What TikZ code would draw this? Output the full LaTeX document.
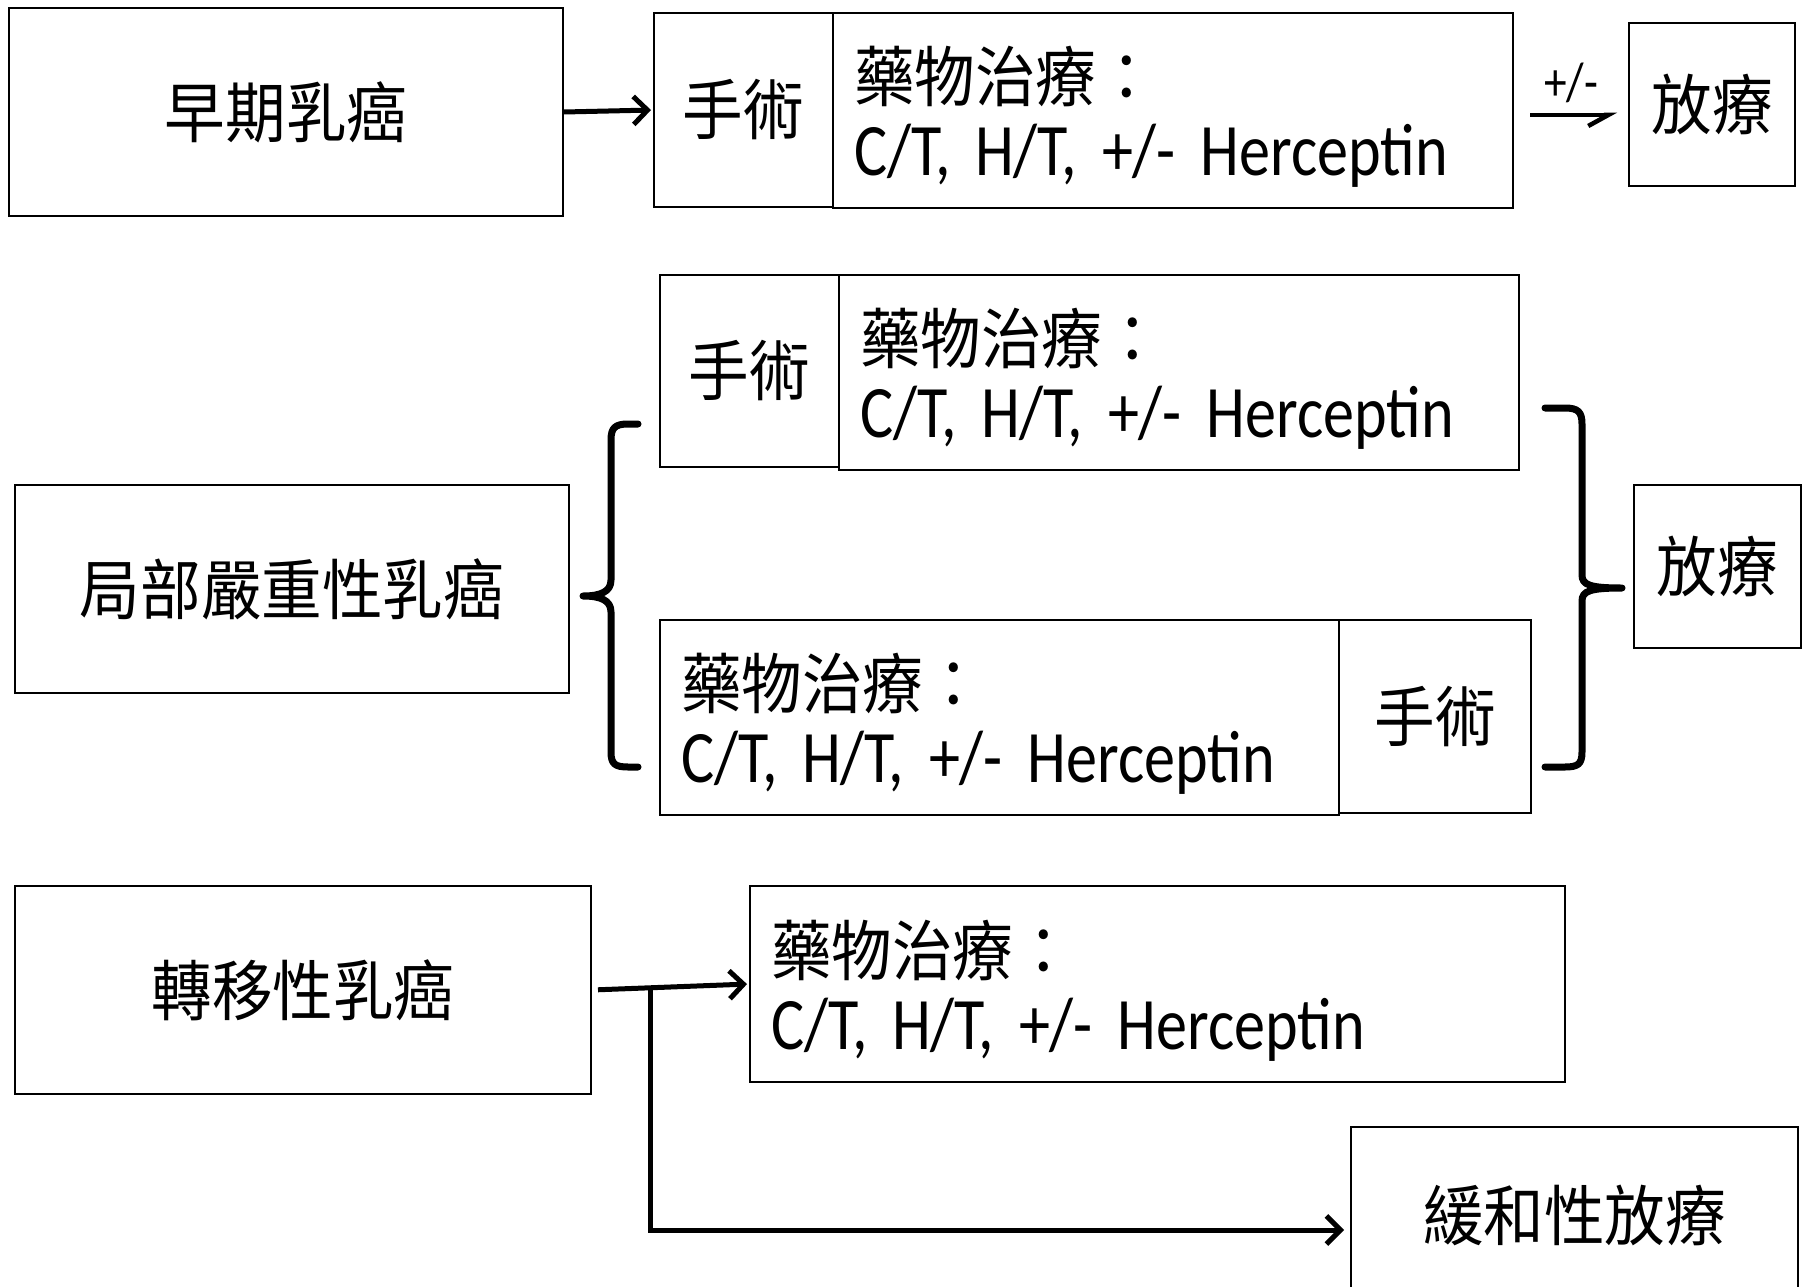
\documentclass[tikz,border=0pt]{standalone}
\usepackage{fontspec}
\setmainfont{Carlito}[FakeStretch=0.84]
\newfontfamily\cjk{Noto Sans CJK TC}[Scale=0.89,FakeStretch=0.92]
\usetikzlibrary{arrows.meta,calc}

\newcommand{\drugfont}{\fontsize{74}{74}\selectfont\fontdimen2\font=11pt\relax}
\newcommand{\drugtext}{\leavevmode\vrule height 68pt depth 0pt width 0pt\relax{\cjk 藥物治療：}\\C/T, H/T, +/- Herceptin}

\begin{document}
\begin{tikzpicture}[x=1pt,y=-1pt,
	box/.style 2 args={draw,line width=2pt,inner sep=0pt,minimum width=#1,minimum height=#2,font=\fontsize{74}{80}\selectfont\cjk},
	drugbox/.style={draw,line width=2pt,inner xsep=21pt,inner ysep=0pt,minimum height=195pt,text width=#1,align=left,font=\drugfont},
	brace/.style={line width=7pt,line cap=round,line join=round},
	>={Straight Barb[length=14pt,width=28pt]}]
		\useasboundingbox (0,0) rectangle (1810,1287);
		% early
		\node[box={554pt}{208pt}] (early) at (286,112) {早期乳癌};
		\node[box={179pt}{194pt}] (surg1) at (743.5,110) {手術};
		\node[drugbox=638pt] (drug1) at (1173,110.5) {\drugtext};
		\node[box={166pt}{163pt}] (rt1) at (1712,104.5) {放療};
		% locally advanced
		\node[box={554pt}{208pt}] (local) at (292,589) {局部嚴重性乳癌};
		\node[box={179pt}{192pt}] (surg2) at (749.5,371) {手術};
		\node[drugbox=638pt] (drug2) at (1179,372.5) {\drugtext};
		\node[drugbox=637pt] (drug3) at (999.5,717) {\drugtext};
		\node[box={192pt}{193pt}] (surg3) at (1435,716.5) {手術};
		\node[box={167pt}{163pt}] (rt2) at (1717.5,566.5) {放療};
		% metastatic
		\node[box={576pt}{208pt}] (meta) at (303,990) {轉移性乳癌};
		\node[drugbox=773pt,minimum height=196pt] (drug4) at (1157.5,984) {\drugtext};
		\node[box={447pt}{176pt}] (palli) at (1574.5,1215) {緩和性放療};
		\coordinate (br) at ($(meta.east)!0.37!(drug4.west)$);
		%
		\draw[->,line width=5pt,shorten >=2pt] (early.east) -- (surg1.west);
		\draw[-{Straight Barb[right,length=20pt,width=22pt]},line width=4.5pt,shorten <=16pt,shorten >=11pt]
			([yshift=-4.5pt]drug1.east) -- ([yshift=-4.5pt]drug1.east -| rt1.west)
			node[midway,above=10pt,font=\fontsize{54}{60}\selectfont,inner sep=0pt] {+/-};
		\draw[->,line width=5pt,shorten <=6pt,shorten >=2pt] (meta.east) -- (drug4.west);
		\draw[->,line width=5pt,shorten >=6pt] (br) |- ([yshift=-15pt]palli.west);
		%
		\draw[brace] (638,424) -- (628,424) .. controls (615,424) and (611,428) .. (611,440)
			-- (611,580) .. controls (611,592) and (600,596) .. (583,596)
			.. controls (600,596) and (611,600) .. (611,612)
			-- (611,752) .. controls (611,764) and (615,767) .. (628,767) -- (638,767);
		\draw[brace] (1545,408) -- (1565,408) .. controls (1578,408) and (1582,412) .. (1582,424)
			-- (1582,575) .. controls (1582,585) and (1590,588) .. (1622,588)
			.. controls (1590,588) and (1582,591) .. (1582,601)
			-- (1582,752) .. controls (1582,764) and (1578,767) .. (1565,767) -- (1545,767);
\end{tikzpicture}
\end{document}
